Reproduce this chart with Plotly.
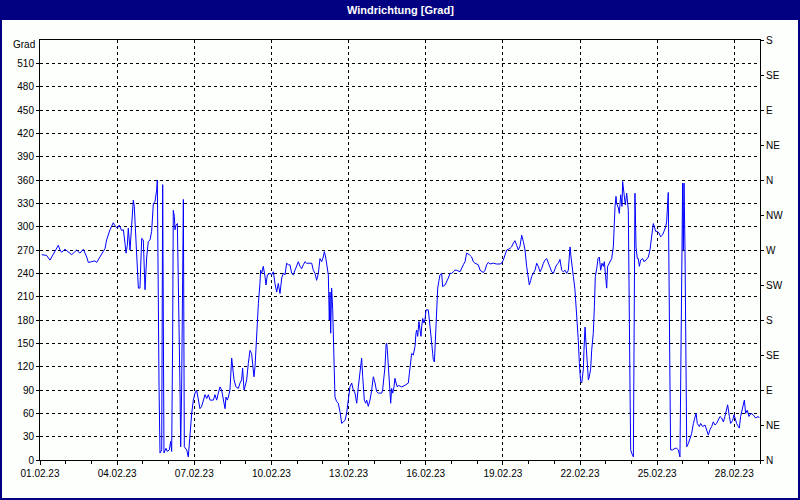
import pandas as pd
import plotly.graph_objects as go

# hours since 01.02.23 00:00 and wind direction in degrees
hours = [
    1.6, 6.2, 9.3, 10.9, 12.4, 15.6, 17.1, 18.7, 20.2, 23.3,
    26.4, 29.6, 32.7, 34.2, 37.3, 40.4, 43.6, 45.1, 48.2, 51.3,
    52.9, 56.0, 59.1, 60.7, 62.2, 65.3, 68.4, 70.0, 72.2, 74.0,
    76.2, 77.8, 79.3, 80.3, 81.5, 82.4, 84.0, 85.6, 87.1, 88.0,
    90.2, 91.8, 93.3, 94.0, 94.9, 96.4, 97.1, 98.0, 99.6, 101.1,
    102.7, 104.2, 105.8, 107.3, 108.9, 109.5, 111.1, 112.0, 113.6, 114.5,
    115.7, 117.6, 118.8, 120.7, 122.0, 122.9, 123.8, 124.4, 125.4, 126.0,
    126.9, 128.2, 130.7, 131.3, 132.2, 133.8, 134.7, 136.9, 138.4, 139.4,
    140.6, 141.6, 143.1, 144.7, 146.2, 147.8, 149.3, 150.9, 152.4, 154.0,
    155.6, 157.1, 158.7, 160.2, 161.8, 163.3, 164.9, 166.4, 168.0, 169.5,
    171.1, 172.7, 173.6, 174.8, 175.8, 177.3, 178.9, 179.8, 181.1, 182.9,
    185.1, 186.7, 188.2, 189.1, 190.4, 191.3, 192.9, 194.4, 196.0, 197.5,
    198.5, 199.7, 200.7, 201.6, 202.8, 203.8, 205.3, 205.9, 206.9, 208.4,
    210.0, 210.9, 212.2, 214.7, 216.2, 217.8, 219.3, 220.9, 222.4, 223.4,
    224.0, 225.6, 227.1, 228.7, 230.2, 231.8, 233.3, 234.9, 236.4, 238.0,
    239.6, 241.1, 242.7, 244.2, 245.8, 247.3, 248.9, 252.0, 253.6, 255.1,
    256.7, 258.2, 259.8, 261.3, 262.9, 264.4, 265.4, 266.6, 267.6, 269.1,
    270.0, 270.7, 271.3, 272.2, 273.2, 273.8, 274.7, 275.3, 276.9, 278.4,
    280.0, 281.6, 283.1, 284.7, 286.2, 287.8, 289.3, 290.9, 292.4, 294.0,
    295.6, 297.1, 298.7, 299.3, 300.2, 301.2, 301.8, 302.7, 304.0, 304.9,
    306.4, 308.0, 309.6, 311.1, 312.7, 314.2, 315.8, 318.9, 319.8, 321.1,
    322.0, 323.0, 323.6, 324.2, 325.1, 326.0, 327.3, 328.2, 329.2, 330.4,
    331.3, 332.3, 333.5, 334.4, 337.6, 340.7, 343.8, 344.7, 346.0, 346.9,
    348.4, 350.0, 350.9, 351.6, 352.5, 353.7, 354.7, 355.6, 356.2, 357.2,
    358.4, 359.3, 360.3, 362.4, 363.4, 364.6, 365.6, 366.5, 367.1, 368.1,
    368.7, 369.6, 370.2, 371.2, 372.4, 373.3, 374.9, 375.8, 378.0, 379.6,
    381.1, 382.7, 384.2, 385.8, 387.3, 388.9, 392.0, 395.1, 396.7, 398.2,
    400.7, 402.9, 404.4, 406.0, 409.1, 410.7, 413.8, 415.3, 416.9, 418.4,
    420.0, 423.1, 426.2, 429.3, 430.9, 432.4, 434.0, 435.6, 438.7, 440.2,
    441.8, 443.3, 444.9, 446.4, 448.0, 449.6, 451.1, 452.7, 454.2, 455.8,
    456.7, 458.0, 458.9, 460.4, 462.0, 463.6, 465.1, 466.7, 468.2, 469.8,
    471.3, 472.9, 474.4, 476.0, 477.6, 479.1, 480.7, 482.2, 483.8, 485.3,
    486.9, 488.4, 490.0, 491.6, 493.1, 494.7, 495.6, 496.8, 497.8, 499.3,
    500.9, 502.4, 503.4, 504.6, 505.6, 507.1, 507.7, 508.7, 509.6, 510.8,
    511.8, 512.7, 514.0, 514.9, 516.4, 517.4, 518.3, 519.6, 520.8, 522.0,
    523.3, 524.5, 525.8, 526.7, 527.6, 528.9, 529.8, 531.4, 533.6, 535.1,
    535.7, 536.7, 537.6, 538.2, 539.8, 540.7, 542.0, 543.2, 543.8, 545.1,
    546.3, 547.6, 549.1, 550.7, 551.3, 552.2, 553.8, 555.3, 556.3, 557.5,
    558.4, 559.4, 560.6, 562.5, 563.7, 565.6, 567.8, 569.3, 570.9, 572.4,
    573.4, 574.6, 576.2, 577.7, 579.3, 580.8, 582.4, 584.0, 584.9, 586.4,
    588.0, 588.6, 590.5, 592.7, 594.2, 595.8, 597.3, 598.9, 599.8, 600.4,
    601.1, 602.0, 602.9, 603.6, 605.1, 606.7, 608.2, 609.8, 611.3, 612.3,
    613.5, 615.4, 616.6, 618.5, 620.7, 622.2, 623.8, 625.3, 626.9, 628.4,
    630.0, 631.5, 633.1, 634.7, 636.2, 637.8, 639.3, 640.9, 641.8, 643.4,
    644.6, 646.5, 647.7, 648.7, 650.2, 651.8, 652.7, 653.9, 655.8, 657.4,
    658.6, 660.1, 661.7, 663.6, 665.7, 667.9, 670.4, 671.3,
]
grad = [
    264, 263, 257, 261, 266, 273, 276, 270, 267, 271,
    268, 264, 268, 270, 266, 271, 261, 254, 255, 256,
    254, 261, 267, 272, 283, 296, 305, 301, 298, 302,
    295, 296, 279, 266, 276, 298, 270, 304, 334, 326,
    253, 221, 221, 249, 285, 283, 246, 219, 261, 281,
    283, 294, 330, 332, 347, 360, 94, 9, 13, 354,
    9, 15, 11, 13, 24, 11, 154, 321, 313, 296,
    302, 304, 90, 17, 90, 335, 17, 13, 4, 26,
    43, 60, 77, 86, 90, 77, 66, 69, 77, 84,
    79, 84, 77, 77, 77, 84, 77, 86, 94, 90,
    77, 66, 81, 77, 81, 90, 131, 116, 103, 94,
    92, 99, 103, 118, 90, 94, 103, 124, 141, 137,
    120, 107, 120, 146, 171, 201, 227, 244, 240, 249,
    236, 225, 238, 240, 238, 242, 227, 216, 227, 214,
    214, 234, 240, 238, 253, 251, 251, 240, 238, 244,
    249, 255, 249, 246, 251, 255, 253, 253, 253, 244,
    240, 231, 240, 259, 255, 261, 268, 261, 249, 238,
    180, 216, 163, 221, 193, 167, 129, 81, 75, 73,
    62, 47, 49, 51, 60, 77, 94, 99, 90, 86,
    73, 94, 116, 124, 131, 107, 86, 77, 73, 77,
    69, 77, 90, 107, 99, 88, 86, 86, 90, 107,
    120, 148, 150, 141, 122, 99, 73, 92, 86, 94,
    105, 99, 94, 96, 94, 96, 99, 111, 129, 137,
    135, 146, 163, 167, 159, 178, 167, 159, 171, 182,
    176, 180, 193, 193, 180, 167, 150, 137, 129, 126,
    146, 167, 206, 221, 231, 238, 240, 223, 225, 229,
    234, 240, 240, 242, 244, 244, 242, 251, 255, 266,
    264, 261, 255, 253, 251, 244, 241, 244, 251, 254,
    252, 253, 252, 252, 253, 257, 264, 270, 272, 274,
    279, 282, 276, 270, 275, 289, 281, 270, 249, 234,
    225, 231, 236, 240, 244, 253, 249, 242, 246, 253,
    257, 259, 253, 249, 242, 240, 246, 251, 253, 258,
    244, 242, 244, 240, 244, 274, 261, 244, 236, 219,
    189, 154, 124, 101, 99, 116, 141, 171, 150, 116,
    103, 107, 118, 141, 163, 197, 236, 246, 259, 261,
    244, 253, 249, 255, 240, 221, 249, 253, 259, 274,
    298, 326, 339, 330, 324, 317, 341, 326, 358, 339,
    328, 343, 321, 90, 13, 9, 4, 343, 274, 259,
    259, 249, 257, 259, 255, 257, 261, 270, 292, 304,
    300, 294, 294, 292, 287, 289, 294, 300, 307, 344,
    94, 13, 13, 15, 15, 13, 4, 270, 356, 270,
    356, 270, 99, 17, 21, 28, 34, 47, 56, 60,
    47, 43, 47, 43, 45, 39, 32, 39, 43, 49,
    45, 47, 51, 56, 54, 49, 56, 64, 71, 56,
    47, 51, 58, 54, 47, 43, 41, 56, 69, 77,
    60, 64, 56, 60, 58, 54, 56, 54,
]

title_text = "Windrichtung [Grad]"
unit_label = "Grad"
left_ticks = list(range(0, 511, 30))
compass_vals = list(range(0, 541, 45))
compass_labels = ["N", "NE", "E", "SE", "S", "SW", "W", "NW", "N", "NE", "E", "SE", "S"]
start = pd.Timestamp("2023-02-01")
end = pd.Timestamp("2023-03-01")

times = start + pd.to_timedelta(hours, unit="h")

NAVY = "#000080"
FONT = "Liberation Sans, Arial, sans-serif"
W, H = 800, 500
L, R, T, B = 40, 40, 40, 40
pw, ph = W - L - R, H - T - B


def px_x(x):
    return (x - L) / pw


def px_y(y):
    return (H - B - y) / ph


fig = go.Figure()
fig.add_trace(go.Scatter(x=times, y=grad, mode="lines",
                         line=dict(color="#0000ff", width=1),
                         hoverinfo="skip", showlegend=False))
fig.add_trace(go.Scatter(x=[times[0]], y=[0], yaxis="y2", mode="markers",
                         marker=dict(opacity=0), hoverinfo="skip", showlegend=False))

grid = dict(showgrid=True, gridcolor="black", gridwidth=1, griddash="3px,3px")

fig.update_layout(
    width=W, height=H,
    margin=dict(l=L, r=R, t=T, b=B, autoexpand=False),
    paper_bgcolor="#fdfffd", plot_bgcolor="#fdfffd",
    font=dict(family=FONT, size=10, color="black"),
    hovermode=False,
    xaxis=dict(type="date", range=[start, end], tick0=start, dtick=3 * 86400000,
               tickformat="%d.%m.%y", showline=True, linecolor="black", linewidth=1,
               mirror=True, ticks="outside", ticklen=4, tickcolor="black",
               minor=dict(tick0=start, dtick=86400000, ticks="outside", ticklen=3,
                          tickcolor="black", showgrid=False),
               zeroline=False, **grid),
    yaxis=dict(range=[0, 540], tickmode="array", tickvals=left_ticks,
               showline=True, linecolor="black", linewidth=1, ticks="outside",
               ticklen=3, tickcolor="black", zeroline=False, **grid),
    yaxis2=dict(range=[0, 540], overlaying="y", side="right", tickmode="array",
                tickvals=compass_vals, ticktext=compass_labels, showgrid=False,
                showline=True, linecolor="black", linewidth=1, ticks="outside",
                ticklen=3, tickcolor="black", zeroline=False),
    shapes=[
        dict(type="rect", xref="paper", yref="paper", layer="above",
             x0=px_x(0), x1=px_x(W), y0=px_y(20), y1=px_y(0),
             fillcolor=NAVY, line=dict(width=0)),
        dict(type="rect", xref="paper", yref="paper", layer="above",
             x0=px_x(0), x1=px_x(W), y0=px_y(H), y1=px_y(0),
             fillcolor="rgba(0,0,0,0)", line=dict(color=NAVY, width=4)),
    ],
    annotations=[
        dict(text="<b>" + title_text + "</b>", xref="paper", yref="paper",
             x=0.5, y=px_y(10), xanchor="center", yanchor="middle",
             showarrow=False, font=dict(color="white", size=11, family=FONT)),
        dict(text=unit_label, xref="paper", yref="paper",
             x=px_x(37), y=px_y(45), xanchor="right", yanchor="middle",
             showarrow=False, font=dict(size=10, family=FONT)),
    ],
)

fig.write_html("out.html", config={"displayModeBar": False, "staticPlot": True},
               post_script="document.body.style.margin='0';document.body.style.overflow='hidden';")
